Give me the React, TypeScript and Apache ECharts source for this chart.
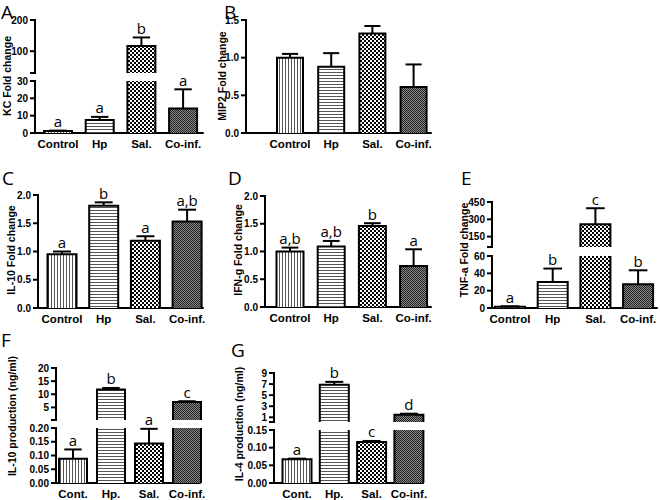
import React, { useEffect, useRef } from "react";
import * as echarts from "echarts";

// ---------- data ----------
const catsLong = ["Control", "Hp", "Sal.", "Co-inf."];
const catsShort = ["Cont.", "Hp.", "Sal.", "Co-inf."];

// A: KC
const kcMean = [1.1, 7.5, 117, 14.2];
const kcErr = [1.4, 9.3, 144, 25.2];
const kcSig = ["a", "a", "b", "a"];
const kcTicksUpper = [100, 200];
const kcTicksLower = [0, 10, 20, 30];
// B: MIP2
const mip2Mean = [1.0, 0.88, 1.32, 0.61];
const mip2Err = [1.05, 1.06, 1.42, 0.91];
const mip2Sig = ["", "", "", ""];
const mip2Ticks = [0, 0.5, 1.0, 1.5];
// C: IL-10 fold
const il10FoldMean = [0.95, 1.81, 1.19, 1.53];
const il10FoldErr = [1.0, 1.87, 1.27, 1.74];
const il10FoldSig = ["a", "b", "a", "a,b"];
const il10FoldTicks = [0, 0.5, 1.0, 1.5, 2.0];
// D: IFN-g
const ifngMean = [1.0, 1.09, 1.46, 0.74];
const ifngErr = [1.07, 1.19, 1.51, 1.04];
const ifngSig = ["a,b", "a,b", "b", "a"];
const ifngTicks = [0, 0.5, 1.0, 1.5, 2.0];
// E: TNF-a
const tnfMean = [1.5, 30, 258, 27.5];
const tnfErr = [2, 45.5, 396, 43.5];
const tnfSig = ["a", "b", "c", "b"];
const tnfTicksUpper = [150, 300, 450];
const tnfTicksLower = [0, 20, 40, 60];
// F: IL-10 production
const il10ProdMean = [0.088, 11.8, 0.144, 7.1];
const il10ProdErr = [0.122, 12.4, 0.197, 7.35];
const il10ProdSig = ["a", "b", "a", "c"];
const il10ProdTicksUpper = [5, 10, 15, 20];
const il10ProdTicksLower = [0, 0.05, 0.1, 0.15, 0.2];
// G: IL-4 production
const il4Mean = [0.067, 6.9, 0.116, 1.45];
const il4Err = [0.069, 7.4, 0.119, 1.65];
const il4Sig = ["a", "b", "c", "d"];
const il4TicksUpper = [1, 3, 5, 7, 9];
const il4TicksLower = [0, 0.05, 0.1, 0.15];

// ---------- layout ----------
type Seg = { top: number; bottom: number; min: number; max: number; labels: number[]; dec: number; breakTick?: boolean };
type Panel = {
  letter: string; letterX: number; letterY: number;
  title: string; titleX: number; titleY: number;
  cats: string[]; mean: number[]; err: number[]; sig: string[];
  axisX: number; endX: number; c0: number; sp: number; barW: number;
  segs: Seg[];
};

const panels: Panel[] = [
  {
    letter: "A", letterX: 1, letterY: 2, title: "KC Fold change", titleX: 7, titleY: 76,
    cats: catsLong, mean: kcMean, err: kcErr, sig: kcSig,
    axisX: 35, endX: 203, c0: 58, sp: 41.7, barW: 28,
    segs: [
      { top: 20, bottom: 73, min: 30, max: 200, labels: kcTicksUpper, dec: 0, breakTick: true },
      { top: 81, bottom: 133, min: 0, max: 30, labels: kcTicksLower, dec: 0 },
    ],
  },
  {
    letter: "B", letterX: 224, letterY: 2, title: "MIP2 Fold change", titleX: 222, titleY: 76,
    cats: catsLong, mean: mip2Mean, err: mip2Err, sig: mip2Sig,
    axisX: 246, endX: 431, c0: 290, sp: 41.2, barW: 26,
    segs: [{ top: 20, bottom: 133, min: 0, max: 1.5, labels: mip2Ticks, dec: 1 }],
  },
  {
    letter: "C", letterX: 2, letterY: 168, title: "IL-10 Fold change", titleX: 11, titleY: 250,
    cats: catsLong, mean: il10FoldMean, err: il10FoldErr, sig: il10FoldSig,
    axisX: 38, endX: 203, c0: 62, sp: 41.7, barW: 29,
    segs: [{ top: 195, bottom: 308, min: 0, max: 2, labels: il10FoldTicks, dec: 1 }],
  },
  {
    letter: "D", letterX: 228, letterY: 168, title: "IFN-g Fold change", titleX: 238, titleY: 250,
    cats: catsLong, mean: ifngMean, err: ifngErr, sig: ifngSig,
    axisX: 265, endX: 431, c0: 290, sp: 41.2, barW: 27,
    segs: [{ top: 196, bottom: 307, min: 0, max: 2, labels: ifngTicks, dec: 1 }],
  },
  {
    letter: "E", letterX: 461, letterY: 168, title: "TNF-a Fold change", titleX: 464, titleY: 250,
    cats: catsLong, mean: tnfMean, err: tnfErr, sig: tnfSig,
    axisX: 492, endX: 657, c0: 510, sp: 42.7, barW: 30,
    segs: [
      { top: 202, bottom: 247, min: 60, max: 450, labels: tnfTicksUpper, dec: 0, breakTick: true },
      { top: 256, bottom: 308, min: 0, max: 60, labels: tnfTicksLower, dec: 0 },
    ],
  },
  {
    letter: "F", letterX: 1, letterY: 330, title: "IL-10 production (ng/ml)", titleX: 12, titleY: 416,
    cats: catsShort, mean: il10ProdMean, err: il10ProdErr, sig: il10ProdSig,
    axisX: 56, endX: 200, c0: 73, sp: 38, barW: 28,
    segs: [
      { top: 368, bottom: 420, min: 0.2, max: 20, labels: il10ProdTicksUpper, dec: 0, breakTick: true },
      { top: 428, bottom: 483, min: 0, max: 0.2, labels: il10ProdTicksLower, dec: 2 },
    ],
  },
  {
    letter: "G", letterX: 231, letterY: 340, title: "IL-4 production (ng/ml)", titleX: 239, titleY: 424,
    cats: catsShort, mean: il4Mean, err: il4Err, sig: il4Sig,
    axisX: 274, endX: 423, c0: 297, sp: 37.3, barW: 29,
    segs: [
      { top: 373, bottom: 422, min: 0.15, max: 9, labels: il4TicksUpper, dec: 0, breakTick: true },
      { top: 430, bottom: 483, min: 0, max: 0.15, labels: il4TicksLower, dec: 2 },
    ],
  },
];

const AXIS_FONT = "Liberation Sans";

function makePattern(kind: string) {
  const c = document.createElement("canvas");
  let w = 4, h = 4;
  if (kind === "vert") { w = 3; h = 1; }
  if (kind === "horiz") { w = 1; h = 3; }
  if (kind === "check") { w = 4; h = 4; }
  if (kind === "dense") { w = 2; h = 2; }
  c.width = w; c.height = h;
  const ctx = c.getContext("2d")!;
  ctx.fillStyle = "#ffffff";
  ctx.fillRect(0, 0, w, h);
  if (kind === "vert") { ctx.fillStyle = "#555"; ctx.fillRect(0, 0, 1, 1); }
  if (kind === "horiz") { ctx.fillStyle = "#555"; ctx.fillRect(0, 0, 1, 1); }
  if (kind === "check") {
    ctx.fillStyle = "#000";
    ctx.fillRect(0, 0, 2, 2);
    ctx.fillRect(2, 2, 2, 2);
  }
  if (kind === "dense") {
    ctx.fillStyle = "#222"; ctx.fillRect(0, 0, 1, 1); ctx.fillRect(1, 1, 1, 1);
    ctx.fillStyle = "#888"; ctx.fillRect(1, 0, 1, 1); ctx.fillRect(0, 1, 1, 1);
  }
  return { image: c, repeat: "repeat", imageWidth: w, imageHeight: h } as any;
}

export default function App() {
  const ref = useRef<HTMLDivElement>(null);
  useEffect(() => {
    if (!ref.current) return;
    const chart = echarts.init(ref.current, undefined, { renderer: "svg" });
    const pats = [makePattern("vert"), makePattern("horiz"), makePattern("check"), makePattern("dense")];

    const grids: any[] = [];
    const xAxes: any[] = [];
    const yAxes: any[] = [];
    const series: any[] = [];

    panels.forEach((p) => {
      const xmin = (p.axisX - p.c0) / p.sp;
      const xmax = (p.endX - p.c0) / p.sp;
      p.segs.forEach((s, si) => {
        const gi = grids.length;
        const isBottom = si === p.segs.length - 1;
        const tickVals = s.breakTick ? [s.min, ...s.labels] : s.labels;
        grids.push({
          left: p.axisX, top: s.top, width: p.endX - p.axisX, height: s.bottom - s.top,
          containLabel: false, outerBoundsMode: "none", show: false,
        });
        xAxes.push({
          type: "value", gridIndex: gi, min: xmin, max: xmax, show: isBottom,
          axisLine: { show: true, onZero: false, lineStyle: { color: "#000", width: 2 } },
          axisTick: { show: false },
          splitLine: { show: false },
          axisLabel: {
            customValues: [0, 1, 2, 3],
            formatter: (v: number) => p.cats[Math.round(v)] ?? "",
            color: "#000", fontWeight: "bold", fontSize: 11.5, fontFamily: AXIS_FONT, margin: 5,
          },
        });
        yAxes.push({ type: "value", gridIndex: gi, min: s.min, max: s.max, show: false, splitLine: { show: false } });
        // bars (the first item also draws the y axis: line, ticks, labels via the axis scale)
        series.push({
          type: "custom", coordinateSystem: "cartesian2d", xAxisIndex: gi, yAxisIndex: gi, z: 2,
          encode: { x: 0, y: 1 },
          data: p.mean.map((m, i) => [i, m]),
          renderItem: (params: any, api: any) => {
            const i = api.value(0) as number;
            const v = api.value(1) as number;
            const cs = params.coordSys;
            const base = cs.y + cs.height;
            const children: any[] = [];
            if (v > s.min) {
              const pt = api.coord([i, v]);
              const top = Math.max(pt[1], cs.y);
              const hw = p.barW / 2;
              const x = pt[0];
              children.push({ type: "rect", shape: { x: x - hw, y: top, width: p.barW, height: base - top }, style: { fill: pats[i], stroke: null } });
              const st = { stroke: "#000", lineWidth: 2, fill: null };
              if (pt[1] >= cs.y) {
                children.push({ type: "polyline", shape: { points: [[x - hw, base], [x - hw, top], [x + hw, top], [x + hw, base]] }, style: st });
              } else {
                children.push({ type: "line", shape: { x1: x - hw, y1: base, x2: x - hw, y2: top }, style: st });
                children.push({ type: "line", shape: { x1: x + hw, y1: base, x2: x + hw, y2: top }, style: st });
              }
            }
            if (params.dataIndex === 0) {
              const ax = cs.x;
              children.push({ type: "rect", shape: { x: ax - 1, y: cs.y - 1, width: 2, height: cs.height + 2 }, style: { fill: "#000" } });
              tickVals.forEach((t) => {
                const ty = api.coord([i, t])[1];
                children.push({ type: "rect", shape: { x: ax - 5, y: ty - 1, width: 5, height: 2 }, style: { fill: "#000" } });
                if (s.labels.indexOf(t) >= 0) {
                  children.push({
                    type: "text", x: ax - 7, y: ty,
                    style: { text: t.toFixed(s.dec), font: `bold 10px '${AXIS_FONT}'`, fill: "#000", textAlign: "right", textVerticalAlign: "middle" },
                  });
                }
              });
            }
            return children.length ? { type: "group", children } : null;
          },
        });
        // error bars + significance letters
        series.push({
          type: "custom", coordinateSystem: "cartesian2d", xAxisIndex: gi, yAxisIndex: gi, z: 3,
          encode: { x: 0, y: [1, 2] },
          data: p.mean.map((m, i) => [i, m, p.err[i]]),
          renderItem: (params: any, api: any) => {
            const i = api.value(0) as number;
            const m = api.value(1) as number;
            const e = api.value(2) as number;
            if (!(e > s.min && e <= s.max)) return null;
            const pE = api.coord([i, e]);
            const pM = api.coord([i, Math.max(m, s.min)]);
            const cw = p.barW * 0.31;
            const st = { stroke: "#000", lineWidth: 2 };
            const children: any[] = [
              { type: "line", shape: { x1: pE[0], y1: pM[1], x2: pE[0], y2: pE[1] }, style: st },
              { type: "line", shape: { x1: pE[0] - cw, y1: pE[1], x2: pE[0] + cw, y2: pE[1] }, style: st },
            ];
            const txt = p.sig[params.dataIndex];
            if (txt) {
              children.push({
                type: "text", x: pE[0], y: pE[1] - 2,
                style: { text: txt, font: "15px 'Open Sans'", fill: "#000", textAlign: "center", textVerticalAlign: "bottom" },
              });
            }
            return { type: "group", children };
          },
        });
        // panel letter and y title
        if (isBottom) {
          series.push({
            type: "custom", coordinateSystem: "cartesian2d", xAxisIndex: gi, yAxisIndex: gi, z: 5,
            encode: { x: 0, y: 1 },
            data: [[xmin, s.min]],
            renderItem: () => ({
              type: "group",
              children: [
                {
                  type: "text", x: p.letterX, y: p.letterY,
                  style: { text: p.letter, font: "19px 'Open Sans'", fill: "#000", textAlign: "left", textVerticalAlign: "top" },
                },
                {
                  type: "text", x: p.titleX, y: p.titleY, rotation: Math.PI / 2,
                  style: { text: p.title, font: `bold 10.5px '${AXIS_FONT}'`, fill: "#000", textAlign: "center", textVerticalAlign: "middle" },
                },
              ],
            }),
          });
        }
      });
    });

    chart.setOption({
      animation: false,
      grid: grids,
      xAxis: xAxes,
      yAxis: yAxes,
      series,
    });
    return () => chart.dispose();
  }, []);
  return <div ref={ref} style={{ position: "fixed", left: 0, top: 0, width: 660, height: 500, background: "#fff" }} />;
}
